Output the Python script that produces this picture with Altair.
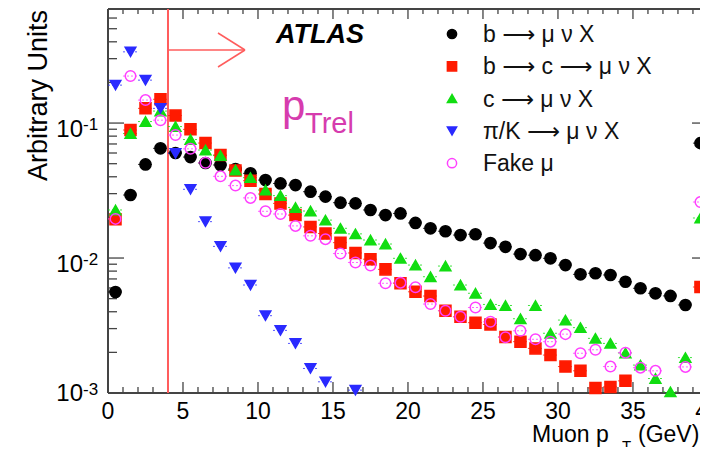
import altair as alt
import pandas as pd

# ---------------- data ----------------
bins = [i + 0.5 for i in range(40)]   # muon pT bin centres, GeV (last bin holds overflow)

series = ["b ⟶ μ ν X", "b ⟶ c ⟶ μ ν X", "c ⟶ μ ν X", "π/K ⟶ μ ν X", "Fake μ"]

b_mu = [0.0056, 0.0293, 0.0494, 0.065, 0.060, 0.056, 0.0506, 0.0489, 0.0456, 0.0424,
        0.0378, 0.0357, 0.0347, 0.0310, 0.0285, 0.0257, 0.0254, 0.0227, 0.0208, 0.0214,
        0.0182, 0.0166, 0.0158, 0.0148, 0.0150, 0.0129, 0.0121, 0.0107, 0.0105, 0.00995,
        0.00887, 0.00757, 0.00771, 0.00749, 0.00667, 0.00597, 0.00548, 0.00524, 0.00449, 0.071]
b_c_mu = [0.0194, 0.0888, 0.1285, 0.150, 0.1137, 0.0898, 0.0711, 0.0580, 0.0445, 0.0374,
          0.0298, 0.0254, 0.0208, 0.0170, 0.0152, 0.0130, 0.0109, 0.0098, 0.00824, 0.00650,
          0.00562, 0.00523, 0.00407, 0.00367, 0.00332, 0.00322, 0.00260, 0.00240, 0.00214, 0.00191,
          0.00157, 0.00146, 0.00109, 0.00111, 0.00123, None, None, None, None, 0.0061]
c_mu = [0.0227, 0.0836, 0.1026, 0.1227, 0.0942, 0.0755, 0.0631, 0.0574, 0.0449, 0.0394,
        0.0319, 0.0290, 0.0237, 0.0223, 0.0191, 0.0166, 0.0151, 0.0136, 0.0127, 0.00995,
        0.00887, 0.00727, 0.00872, 0.00631, 0.00548, 0.00453, 0.00445, 0.00355, 0.00445, 0.00277,
        0.00347, 0.00305, 0.00254, 0.00233, 0.00198, 0.00161, 0.00128, 0.00102, 0.00183, 0.0198]
pik_mu = [0.191, 0.337, 0.208, 0.1285, 0.0597, 0.0323, 0.0186, 0.0122, 0.00845, 0.00631,
          0.00374, 0.00291, 0.00233, 0.00152, 0.00121, None, 0.00105, None, None, None,
          None, None, None, None, None, None, None, None, None, None,
          None, None, None, None, None, None, None, None, None, None]
fake_mu = [0.0195, 0.223, 0.148, 0.105, 0.0815, 0.0644, 0.0508, 0.0403, 0.0344, 0.0279,
           0.0222, 0.0212, 0.0173, 0.0146, 0.0138, 0.0108, 0.00927, 0.00880, 0.00650, 0.00657,
           0.00607, 0.00456, 0.00407, 0.00367, 0.00430, 0.00337, 0.00259, 0.00289, 0.00250, 0.00240,
           0.00273, 0.00197, 0.00209, 0.00157, 0.00199, 0.00154, 0.00146, None, 0.00156, 0.026]

cut_value = [4.0]                       # pTrel selection cut, GeV
x_major = [0, 5, 10, 15, 20, 25, 30, 35, 40]
x_minor = [v for v in range(1, 40) if v % 5 != 0]
y_major = [0.001, 0.01, 0.1]
y_exp = ["-3", "-2", "-1"]
y_minor = [k * 10.0 ** e for e in (-3, -2, -1) for k in range(2, 10) if k * 10.0 ** e <= 0.7]

# ---------------- tables ----------------
rows = []
for name, vals in zip(series, [b_mu, b_c_mu, c_mu, pik_mu, fake_mu]):
    for x, v in zip(bins, vals):
        if v is not None:
            rows.append({"series": name, "pt": x, "val": v, "lo": x - 0.5, "hi": x + 0.5})
df = pd.DataFrame(rows)

strokes = ["#000000", "#ff1a00", "#11dd11", "#2a2aff", "#ff40ff"]
fills = ["#000000", "#ff1a00", "#11dd11", "#2a2aff", "transparent"]
shapes = ["circle", "square", "triangle-up", "triangle-down", "circle"]
sizes = [125, 110, 105, 110, 125]

W, H = 592, 384
FONT = "Liberation Sans"
LFONT = "Liberation Sans, DejaVu Sans"
xs = alt.Scale(domain=[0, 39.47], nice=False, zero=False)
ys = alt.Scale(type="log", domain=[0.001, 0.7], nice=False)
FRAME = "#444444"


def X(f):
    return alt.X(f, scale=xs, axis=None)


def Y(f):
    return alt.Y(f, scale=ys, axis=None)


# error bars (bin width)
errs = alt.Chart(df).mark_rule(strokeWidth=1, strokeDash=[2, 2], opacity=0.8).encode(
    x=X("lo:Q"), x2="hi:Q", y=Y("val:Q"),
    stroke=alt.Stroke("series:N", scale=alt.Scale(domain=series, range=strokes), legend=None),
)

points = alt.Chart(df).mark_point(strokeWidth=1.5, opacity=1).encode(
    x=X("pt:Q"), y=Y("val:Q"),
    stroke=alt.Stroke("series:N", scale=alt.Scale(domain=series, range=strokes), legend=None),
    fill=alt.Fill("series:N", scale=alt.Scale(domain=series, range=fills), legend=None),
    shape=alt.Shape("series:N", scale=alt.Scale(domain=series, range=shapes), legend=None),
    size=alt.Size("series:N", scale=alt.Scale(domain=series, range=sizes), legend=None),
)

# frame
one = alt.Chart(pd.DataFrame({"a": [0]}))
frame_left = one.mark_rule(color=FRAME, strokeWidth=2).encode(
    x=alt.value(0), y=alt.value(0), y2=alt.value(H))
frame_bottom = one.mark_rule(color=FRAME, strokeWidth=2).encode(
    x=alt.value(0), x2=alt.value(W), y=alt.value(H))
frame_top = one.mark_rule(color=FRAME, strokeWidth=2).encode(
    x=alt.value(0), x2=alt.value(W), y=alt.value(0))

# ticks
xmaj = alt.Chart(pd.DataFrame({"t": x_major}))
xmin = alt.Chart(pd.DataFrame({"t": x_minor}))
ymaj = alt.Chart(pd.DataFrame({"v": y_major, "e": y_exp}))
ymin = alt.Chart(pd.DataFrame({"v": y_minor}))
tk = dict(color=FRAME, strokeWidth=1.3)
ticks = [
    xmaj.mark_rule(**tk).encode(x=X("t:Q"), y=alt.value(H), y2=alt.value(H - 11)),
    xmin.mark_rule(**tk).encode(x=X("t:Q"), y=alt.value(H), y2=alt.value(H - 6)),
    xmaj.mark_rule(**tk).encode(x=X("t:Q"), y=alt.value(0), y2=alt.value(10)),
    xmin.mark_rule(**tk).encode(x=X("t:Q"), y=alt.value(0), y2=alt.value(5)),
    ymaj.mark_rule(**tk).encode(y=Y("v:Q"), x=alt.value(0), x2=alt.value(16)),
    ymin.mark_rule(**tk).encode(y=Y("v:Q"), x=alt.value(0), x2=alt.value(9)),
    ymaj.mark_rule(**tk).encode(y=Y("v:Q"), x=alt.value(600), x2=alt.value(584)),
]

# tick labels
xlabels = xmaj.mark_text(font=FONT, fontSize=23, color="black", baseline="middle", align="center").encode(
    x=X("t:Q"), y=alt.value(H + 19), text=alt.Text("t:Q"))
ylab_hi = ymaj.transform_filter("datum.v > 0.002")
ylab_lo = ymaj.transform_filter("datum.v < 0.002")
ylabels = [
    ylab_hi.mark_text(text="10", font=FONT, fontSize=24, color="black", align="right",
                      baseline="middle", dy=7).encode(y=Y("v:Q"), x=alt.value(-25)),
    ylab_hi.mark_text(font=FONT, fontSize=17, color="black", align="left",
                      baseline="middle", dy=2).encode(y=Y("v:Q"), x=alt.value(-25), text="e:N"),
    ylab_lo.mark_text(text="10", font=FONT, fontSize=24, color="black", align="right",
                      baseline="middle", dy=1).encode(y=Y("v:Q"), x=alt.value(-25)),
    ylab_lo.mark_text(font=FONT, fontSize=17, color="black", align="left",
                      baseline="middle", dy=-3).encode(y=Y("v:Q"), x=alt.value(-25), text="e:N"),
]

# axis titles
ytitle = one.mark_text(text="Arbitrary Units", font=FONT, fontSize=27, color="black", angle=270,
                       align="right", baseline="middle").encode(x=alt.value(-69), y=alt.value(1))
xtitle = [
    one.mark_text(text="Muon p", font=FONT, fontSize=23, color="black", align="left",
                  baseline="middle").encode(x=alt.value(424), y=alt.value(H + 42)),
    one.mark_text(text="T", font=FONT, fontSize=15, color="black", align="left",
                  baseline="middle").encode(x=alt.value(514), y=alt.value(H + 53)),
    one.mark_text(text="(GeV)", font=FONT, fontSize=23, color="black", align="left",
                  baseline="middle").encode(x=alt.value(530), y=alt.value(H + 42)),
]

# cut line and arrow
CUT = "#ff5c5c"
cut = alt.Chart(pd.DataFrame({"c": cut_value}))
cutline = cut.mark_rule(color=CUT, strokeWidth=2).encode(
    x=X("c:Q"), y=alt.value(0), y2=alt.value(H))
arrow = [
    cut.mark_rule(color=CUT, strokeWidth=1.5).encode(
        x=X("c:Q"), x2=alt.value(137), y=alt.value(41)),
    one.mark_rule(color=CUT, strokeWidth=1.5).encode(
        x=alt.value(110), y=alt.value(24), x2=alt.value(137), y2=alt.value(41)),
    one.mark_rule(color=CUT, strokeWidth=1.5).encode(
        x=alt.value(110), y=alt.value(58), x2=alt.value(137), y2=alt.value(41)),
]

# legend (drawn box-free, like the ROOT legend)
legend_layers = []
for i, name in enumerate(series):
    ly = 25 + 32.3 * i
    legend_layers.append(
        one.mark_point(shape=shapes[i], fill=fills[i], stroke=strokes[i], strokeWidth=1.5,
                       size=85, opacity=1).encode(x=alt.value(344), y=alt.value(ly)))
    legend_layers.append(
        one.mark_text(text=name, font=LFONT, fontSize=23, color="#111111", align="left",
                      baseline="middle").encode(x=alt.value(375), y=alt.value(ly + 1)))

# annotations
PINK = "#d63cae"
atlas = one.mark_text(text="ATLAS", font=FONT, fontSize=27, fontWeight="bold", fontStyle="italic",
                      color="black", align="left", baseline="alphabetic").encode(
    x=alt.value(168), y=alt.value(34))
ptrel = [
    one.mark_text(text="p", font=FONT, fontSize=42, color=PINK, align="left",
                  baseline="alphabetic").encode(x=alt.value(174), y=alt.value(111)),
    one.mark_text(text="Trel", font=FONT, fontSize=29, color=PINK, align="left",
                  baseline="alphabetic").encode(x=alt.value(197), y=alt.value(124)),
]

chart = alt.layer(
    frame_left, frame_bottom, frame_top, *ticks, cutline, *arrow,
    errs, points, xlabels, *ylabels, ytitle, *xtitle, *legend_layers, atlas, *ptrel,
).properties(
    width=W, height=H,
    padding={"left": 100, "top": 1, "right": 0, "bottom": 54},
    autosize=alt.AutoSizeParams(type="none"),
    background="white",
).configure_view(stroke=None)

chart.save("out.html", embed_options={"renderer": "svg", "actions": False})
